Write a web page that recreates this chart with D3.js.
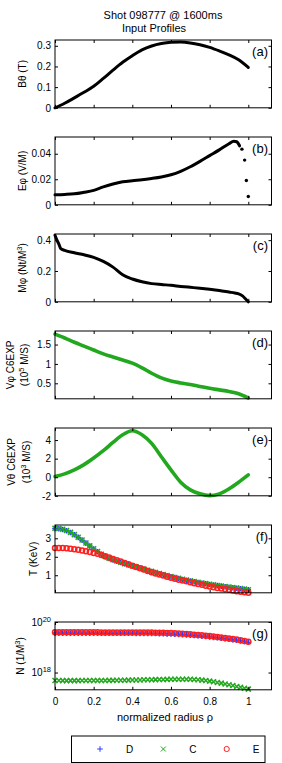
<!DOCTYPE html>
<html>
<head>
<meta charset="utf-8">
<script src="https://cdnjs.cloudflare.com/ajax/libs/d3/7.8.5/d3.min.js"></script>
<style>
  body { margin: 0; background: #fff; }
  svg { display: block; font-family: "Liberation Sans", Arial, sans-serif; }
</style>
</head>
<body>
<svg id="chart" width="282" height="763"></svg>
<script>
// ---- data ----
const rho05 = [0, 0.05, 0.1, 0.15, 0.2, 0.25, 0.3, 0.35, 0.4, 0.45, 0.5, 0.55, 0.6, 0.65, 0.7, 0.75, 0.8, 0.85, 0.9, 0.95, 1];
const bTheta = [0, 0.022, 0.048, 0.075, 0.104, 0.142, 0.182, 0.22, 0.252, 0.28, 0.299, 0.311, 0.317, 0.318, 0.314, 0.305, 0.292, 0.275, 0.256, 0.232, 0.195];

const rhoB = [0, 0.05, 0.1, 0.15, 0.2, 0.25, 0.3, 0.35, 0.4, 0.45, 0.5, 0.55, 0.6, 0.65, 0.7, 0.75, 0.8, 0.85, 0.9, 0.925, 0.94, 0.955, 0.967, 0.981, 0.99, 1];
const ePhi = [0.0078, 0.0081, 0.0086, 0.0098, 0.0113, 0.014, 0.0163, 0.018, 0.0189, 0.0196, 0.0206, 0.0218, 0.0235, 0.0262, 0.0298, 0.034, 0.0385, 0.043, 0.0478, 0.0498, 0.0494, 0.0462, 0.0436, 0.035, 0.019, 0.0065];

const rhoM = [0, 0.01, 0.02, 0.03, 0.05, 0.1, 0.15, 0.2, 0.25, 0.3, 0.35, 0.4, 0.45, 0.5, 0.55, 0.6, 0.65, 0.7, 0.75, 0.8, 0.85, 0.9, 0.93, 0.95, 0.97, 0.985, 1];
const mPhi = [0.432, 0.4, 0.375, 0.345, 0.334, 0.318, 0.305, 0.288, 0.262, 0.225, 0.175, 0.148, 0.13, 0.118, 0.112, 0.107, 0.1, 0.094, 0.088, 0.081, 0.073, 0.063, 0.057, 0.052, 0.038, 0.02, 0];

const vPhi = [1.77, 1.67, 1.56, 1.46, 1.36, 1.26, 1.18, 1.1, 1.02, 0.9, 0.76, 0.64, 0.56, 0.51, 0.47, 0.42, 0.37, 0.33, 0.29, 0.23, 0.12];
const vTheta = [0.07, 0.36, 0.79, 1.36, 2.07, 2.86, 3.75, 4.57, 5.0, 4.57, 3.64, 2.21, 0.79, -0.54, -1.36, -1.79, -1.98, -1.79, -1.25, -0.54, 0.25];

const rho02 = [0, 0.02, 0.04, 0.06, 0.08, 0.1, 0.12, 0.14, 0.16, 0.18, 0.2, 0.22, 0.24, 0.26, 0.28, 0.3, 0.32, 0.34, 0.36, 0.38, 0.4, 0.42, 0.44, 0.46, 0.48, 0.5,
  0.52, 0.54, 0.56, 0.58, 0.6, 0.62, 0.64, 0.66, 0.68, 0.7, 0.72, 0.74, 0.76, 0.78, 0.8, 0.82, 0.84, 0.86, 0.88, 0.9, 0.92, 0.94, 0.96, 0.98, 1];

const tD = [3.53, 3.52, 3.48, 3.41, 3.31, 3.19, 3.05, 2.9, 2.74, 2.58, 2.42, 2.27, 2.13, 2.01, 1.91, 1.83, 1.76, 1.69, 1.62, 1.56, 1.5, 1.44, 1.38, 1.32, 1.26, 1.2,
  1.14, 1.08, 1.03, 0.97, 0.92, 0.87, 0.82, 0.77, 0.73, 0.69, 0.65, 0.61, 0.57, 0.54, 0.5, 0.47, 0.44, 0.41, 0.38, 0.35, 0.32, 0.3, 0.27, 0.24, 0.21];
const tC = [3.54, 3.53, 3.49, 3.42, 3.32, 3.2, 3.06, 2.91, 2.75, 2.59, 2.43, 2.28, 2.14, 2.02, 1.92, 1.84, 1.77, 1.7, 1.63, 1.57, 1.51, 1.45, 1.39, 1.33, 1.27, 1.21,
  1.15, 1.09, 1.04, 0.98, 0.93, 0.88, 0.83, 0.78, 0.74, 0.7, 0.66, 0.62, 0.58, 0.55, 0.51, 0.48, 0.45, 0.42, 0.39, 0.36, 0.33, 0.31, 0.28, 0.25, 0.22];
const tE = [2.48, 2.48, 2.47, 2.46, 2.44, 2.41, 2.38, 2.34, 2.3, 2.26, 2.21, 2.16, 2.1, 2.03, 1.96, 1.88, 1.81, 1.74, 1.66, 1.59, 1.52, 1.45, 1.38, 1.31, 1.23, 1.16,
  1.1, 1.04, 0.98, 0.92, 0.86, 0.81, 0.76, 0.71, 0.67, 0.62, 0.57, 0.52, 0.48, 0.43, 0.39, 0.35, 0.31, 0.28, 0.24, 0.21, 0.18, 0.14, 0.11, 0.08, 0.05];

const nD = [3.64e19, 3.64e19, 3.63e19, 3.63e19, 3.62e19, 3.62e19, 3.62e19, 3.62e19, 3.61e19, 3.61e19, 3.61e19, 3.61e19, 3.6e19, 3.6e19, 3.6e19, 3.59e19, 3.59e19, 3.58e19, 3.58e19, 3.57e19, 3.57e19, 3.56e19, 3.56e19, 3.55e19, 3.54e19, 3.53e19,
  3.51e19, 3.48e19, 3.44e19, 3.4e19, 3.36e19, 3.3e19, 3.24e19, 3.16e19, 3.09e19, 3.01e19, 2.93e19, 2.84e19, 2.75e19, 2.66e19, 2.57e19, 2.47e19, 2.38e19, 2.28e19, 2.19e19, 2.09e19, 1.99e19, 1.89e19, 1.79e19, 1.68e19, 1.57e19];
const nC = [4.8e17, 4.8e17, 4.79e17, 4.78e17, 4.78e17, 4.78e17, 4.79e17, 4.8e17, 4.8e17, 4.81e17, 4.82e17, 4.83e17, 4.85e17, 4.86e17, 4.88e17, 4.9e17, 4.92e17, 4.95e17, 4.98e17, 5.0e17, 5.03e17, 5.06e17, 5.1e17, 5.13e17, 5.17e17, 5.2e17,
  5.24e17, 5.28e17, 5.32e17, 5.36e17, 5.4e17, 5.43e17, 5.45e17, 5.46e17, 5.45e17, 5.4e17, 5.3e17, 5.17e17, 5.0e17, 4.8e17, 4.57e17, 4.32e17, 4.06e17, 3.8e17, 3.54e17, 3.29e17, 3.05e17, 2.82e17, 2.6e17, 2.4e17, 2.2e17];
const nE = [3.92e19, 3.92e19, 3.91e19, 3.91e19, 3.9e19, 3.9e19, 3.9e19, 3.9e19, 3.89e19, 3.89e19, 3.89e19, 3.89e19, 3.88e19, 3.88e19, 3.88e19, 3.87e19, 3.87e19, 3.86e19, 3.86e19, 3.85e19, 3.85e19, 3.84e19, 3.84e19, 3.83e19, 3.82e19, 3.81e19,
  3.79e19, 3.76e19, 3.72e19, 3.68e19, 3.63e19, 3.57e19, 3.5e19, 3.42e19, 3.34e19, 3.25e19, 3.16e19, 3.06e19, 2.96e19, 2.86e19, 2.76e19, 2.65e19, 2.55e19, 2.44e19, 2.34e19, 2.23e19, 2.12e19, 2.01e19, 1.9e19, 1.78e19, 1.66e19];

const xTicks = [0, 0.2, 0.4, 0.6, 0.8, 1];
const species = ["D", "C", "E"];

// ---- layout ----
const svg = d3.select("#chart");
const left = 55, right = 271.5, panelH = 67.8;
const GREEN = "#22a81e", RED = "#ff1f1f", BLUE = "#2f3cff";
const x = d3.scaleLinear().domain([0, 1.12]).range([left, right]);

svg.append("rect").attr("width", 282).attr("height", 763).attr("fill", "#fff");

const panels = [
  { tag: "(a)", lines: ["Bθ (T)"], lx: [22.5], dom: [0, 0.328], ticks: [0, 0.1, 0.2, 0.3],
    series: [{ rho: rho05, v: bTheta, kind: "black" }] },
  { tag: "(b)", lines: ["Eφ (V/M)"], lx: [22.5], dom: [0, 0.0531], ticks: [0, 0.02, 0.04],
    series: [{ rho: rhoB, v: ePhi, kind: "black", cut: 0.96 }] },
  { tag: "(c)", lines: ["Mφ (Nt/M^3)"], lx: [22.5], dom: [0, 0.44], ticks: [0, 0.2, 0.4],
    series: [{ rho: rhoM, v: mPhi, kind: "black" }] },
  { tag: "(d)", lines: ["Vφ C6EXP", "(10^5 M/S)"], lx: [10, 24], dom: [0.1, 1.85], ticks: [0.5, 1, 1.5],
    series: [{ rho: rho05, v: vPhi, kind: "green" }] },
  { tag: "(e)", lines: ["Vθ C6EXP", "(10^3 M/S)"], lx: [11, 26], dom: [-2, 5.3], ticks: [-2, 0, 2, 4],
    series: [{ rho: rho05, v: vTheta, kind: "green" }] },
  { tag: "(f)", lines: ["T (KeV)"], lx: [33.5], dom: [0.05, 3.72], ticks: [1, 2, 3],
    series: [{ rho: rho02, v: tD, kind: "plus" }, { rho: rho02, v: tC, kind: "cross" }, { rho: rho02, v: tE, kind: "circle" }] },
  { tag: "(g)", lines: ["N (1/M^3)"], lx: [20], log: true, dom: [2.07e17, 1e20], ticks: [1e18, 1e20],
    series: [{ rho: rho02, v: nD, kind: "plus" }, { rho: rho02, v: nC, kind: "cross" }, { rho: rho02, v: nE, kind: "circle" }] }
];

// text with ^NN superscripts
function richText(sel, str, supSize) {
  const parts = str.split(/\^(\d+)/);
  let raised = false;
  parts.forEach((p, i) => {
    if (i % 2) {
      sel.append("tspan").attr("dy", -4).attr("font-size", supSize).text(p);
      raised = true;
    } else if (p) {
      const t = sel.append("tspan").text(p);
      if (raised) { t.attr("dy", 4); raised = false; }
    }
  });
}

const markerPath = {
  plus: "M-2.8,0H2.8M0,-2.8V2.8",
  cross: "M-2.5,-2.5L2.5,2.5M-2.5,2.5L2.5,-2.5"
};
const markerColor = { plus: BLUE, cross: GREEN, circle: RED };

panels.forEach((p, i) => {
  const top = 40 + i * 97, bottom = top + panelH;
  const y = (p.log ? d3.scaleLog() : d3.scaleLinear()).domain(p.dom).range([bottom, top]);
  const g = svg.append("g");

  // data
  p.series.forEach(s => {
    const pts = s.rho.map((r, k) => [x(r), y(s.v[k])]);
    if (s.kind === "black" || s.kind === "green") {
      const col = s.kind === "black" ? "#000" : GREEN;
      const cut = s.cut || 1;
      const linePts = pts.filter((d, k) => s.rho[k] <= cut);
      g.append("path")
        .attr("d", d3.line().curve(d3.curveMonotoneX)(linePts))
        .attr("fill", "none").attr("stroke", col)
        .attr("stroke-width", s.kind === "black" ? 3 : 3.6)
        .attr("stroke-linecap", "round").attr("stroke-linejoin", "round");
      g.selectAll(null).data(pts.filter((d, k) => s.rho[k] > cut)).enter()
        .append("circle").attr("cx", d => d[0]).attr("cy", d => d[1]).attr("r", 1.7).attr("fill", col);
    } else if (s.kind === "circle") {
      g.selectAll(null).data(pts).enter().append("circle")
        .attr("cx", d => d[0]).attr("cy", d => d[1]).attr("r", 2.5)
        .attr("fill", "none").attr("stroke", RED).attr("stroke-width", 1.5);
    } else {
      g.selectAll(null).data(pts).enter().append("path")
        .attr("d", markerPath[s.kind])
        .attr("transform", d => `translate(${d[0]},${d[1]})`)
        .attr("fill", "none").attr("stroke", markerColor[s.kind]).attr("stroke-width", 1.5);
    }
  });

  // frame
  g.append("rect").attr("x", left).attr("y", top).attr("width", right - left).attr("height", panelH)
    .attr("fill", "none").attr("stroke", "#000").attr("stroke-width", 1);

  // axes (ticks inward)
  const fmt = d => String(d);
  const ax = [
    g.append("g").attr("transform", `translate(${left},0)`)
      .call(d3.axisLeft(y).tickValues(p.ticks).tickSize(-3).tickPadding(4).tickFormat(fmt)),
    g.append("g").attr("transform", `translate(${right},0)`)
      .call(d3.axisRight(y).tickValues(p.ticks).tickSize(-3).tickFormat("")),
    g.append("g").attr("transform", `translate(0,${top})`)
      .call(d3.axisTop(x).tickValues(xTicks).tickSize(-3).tickFormat("")),
    g.append("g").attr("transform", `translate(0,${bottom})`)
      .call(d3.axisBottom(x).tickValues(xTicks).tickSize(-3).tickPadding(8)
        .tickFormat(i === panels.length - 1 ? fmt : ""))
  ];
  ax.forEach(a => {
    a.select(".domain").remove();
    a.selectAll("text").attr("font-size", 10).attr("font-family", null).attr("fill", "#000");
    a.selectAll("line").attr("stroke", "#000");
  });
  if (p.log) {
    ax[0].selectAll(".tick text").each(function (d) {
      const t = d3.select(this).text(null);
      richText(t, "10^" + Math.round(Math.log10(d)), 7.5);
    });
  }

  // y label
  const cy = (top + bottom) / 2;
  p.lines.forEach((line, k) => {
    const t = svg.append("text")
      .attr("transform", `translate(${p.lx[k]},${cy}) rotate(-90)`)
      .attr("text-anchor", "middle").attr("dy", "0.35em").attr("font-size", 10);
    richText(t, line, 7.5);
  });

  // panel tag
  svg.append("text").attr("x", 268).attr("y", top + 16).attr("text-anchor", "end")
    .attr("font-size", 13).text(p.tag);
});

// title and x label
svg.append("text").attr("x", 163).attr("y", 19).attr("text-anchor", "middle").attr("font-size", 11)
  .text("Shot 098777 @ 1600ms");
svg.append("text").attr("x", 154).attr("y", 31.5).attr("text-anchor", "middle").attr("font-size", 11)
  .text("Input Profiles");
svg.append("text").attr("x", 165).attr("y", 720.5).attr("text-anchor", "middle").attr("font-size", 11)
  .text("normalized radius ρ");

// legend
const leg = svg.append("g");
leg.append("rect").attr("x", 71.5).attr("y", 736).attr("width", 193.5).attr("height", 26.5)
  .attr("fill", "#fff").attr("stroke", "#000");
const legX = d3.scalePoint().domain(species).range([100, 226.7]);
const legKind = { D: "plus", C: "cross", E: "circle" };
species.forEach(s => {
  const cx = legX(s), cy = 749;
  if (legKind[s] === "circle") {
    leg.append("circle").attr("cx", cx).attr("cy", cy).attr("r", 2.6)
      .attr("fill", "none").attr("stroke", RED);
  } else {
    leg.append("path").attr("d", markerPath[legKind[s]]).attr("transform", `translate(${cx},${cy})`)
      .attr("fill", "none").attr("stroke", markerColor[legKind[s]]);
  }
  leg.append("text").attr("x", cx + 29.5).attr("y", cy).attr("dy", "0.35em")
    .attr("text-anchor", "middle").attr("font-size", 10).text(s);
});
</script>
</body>
</html>
